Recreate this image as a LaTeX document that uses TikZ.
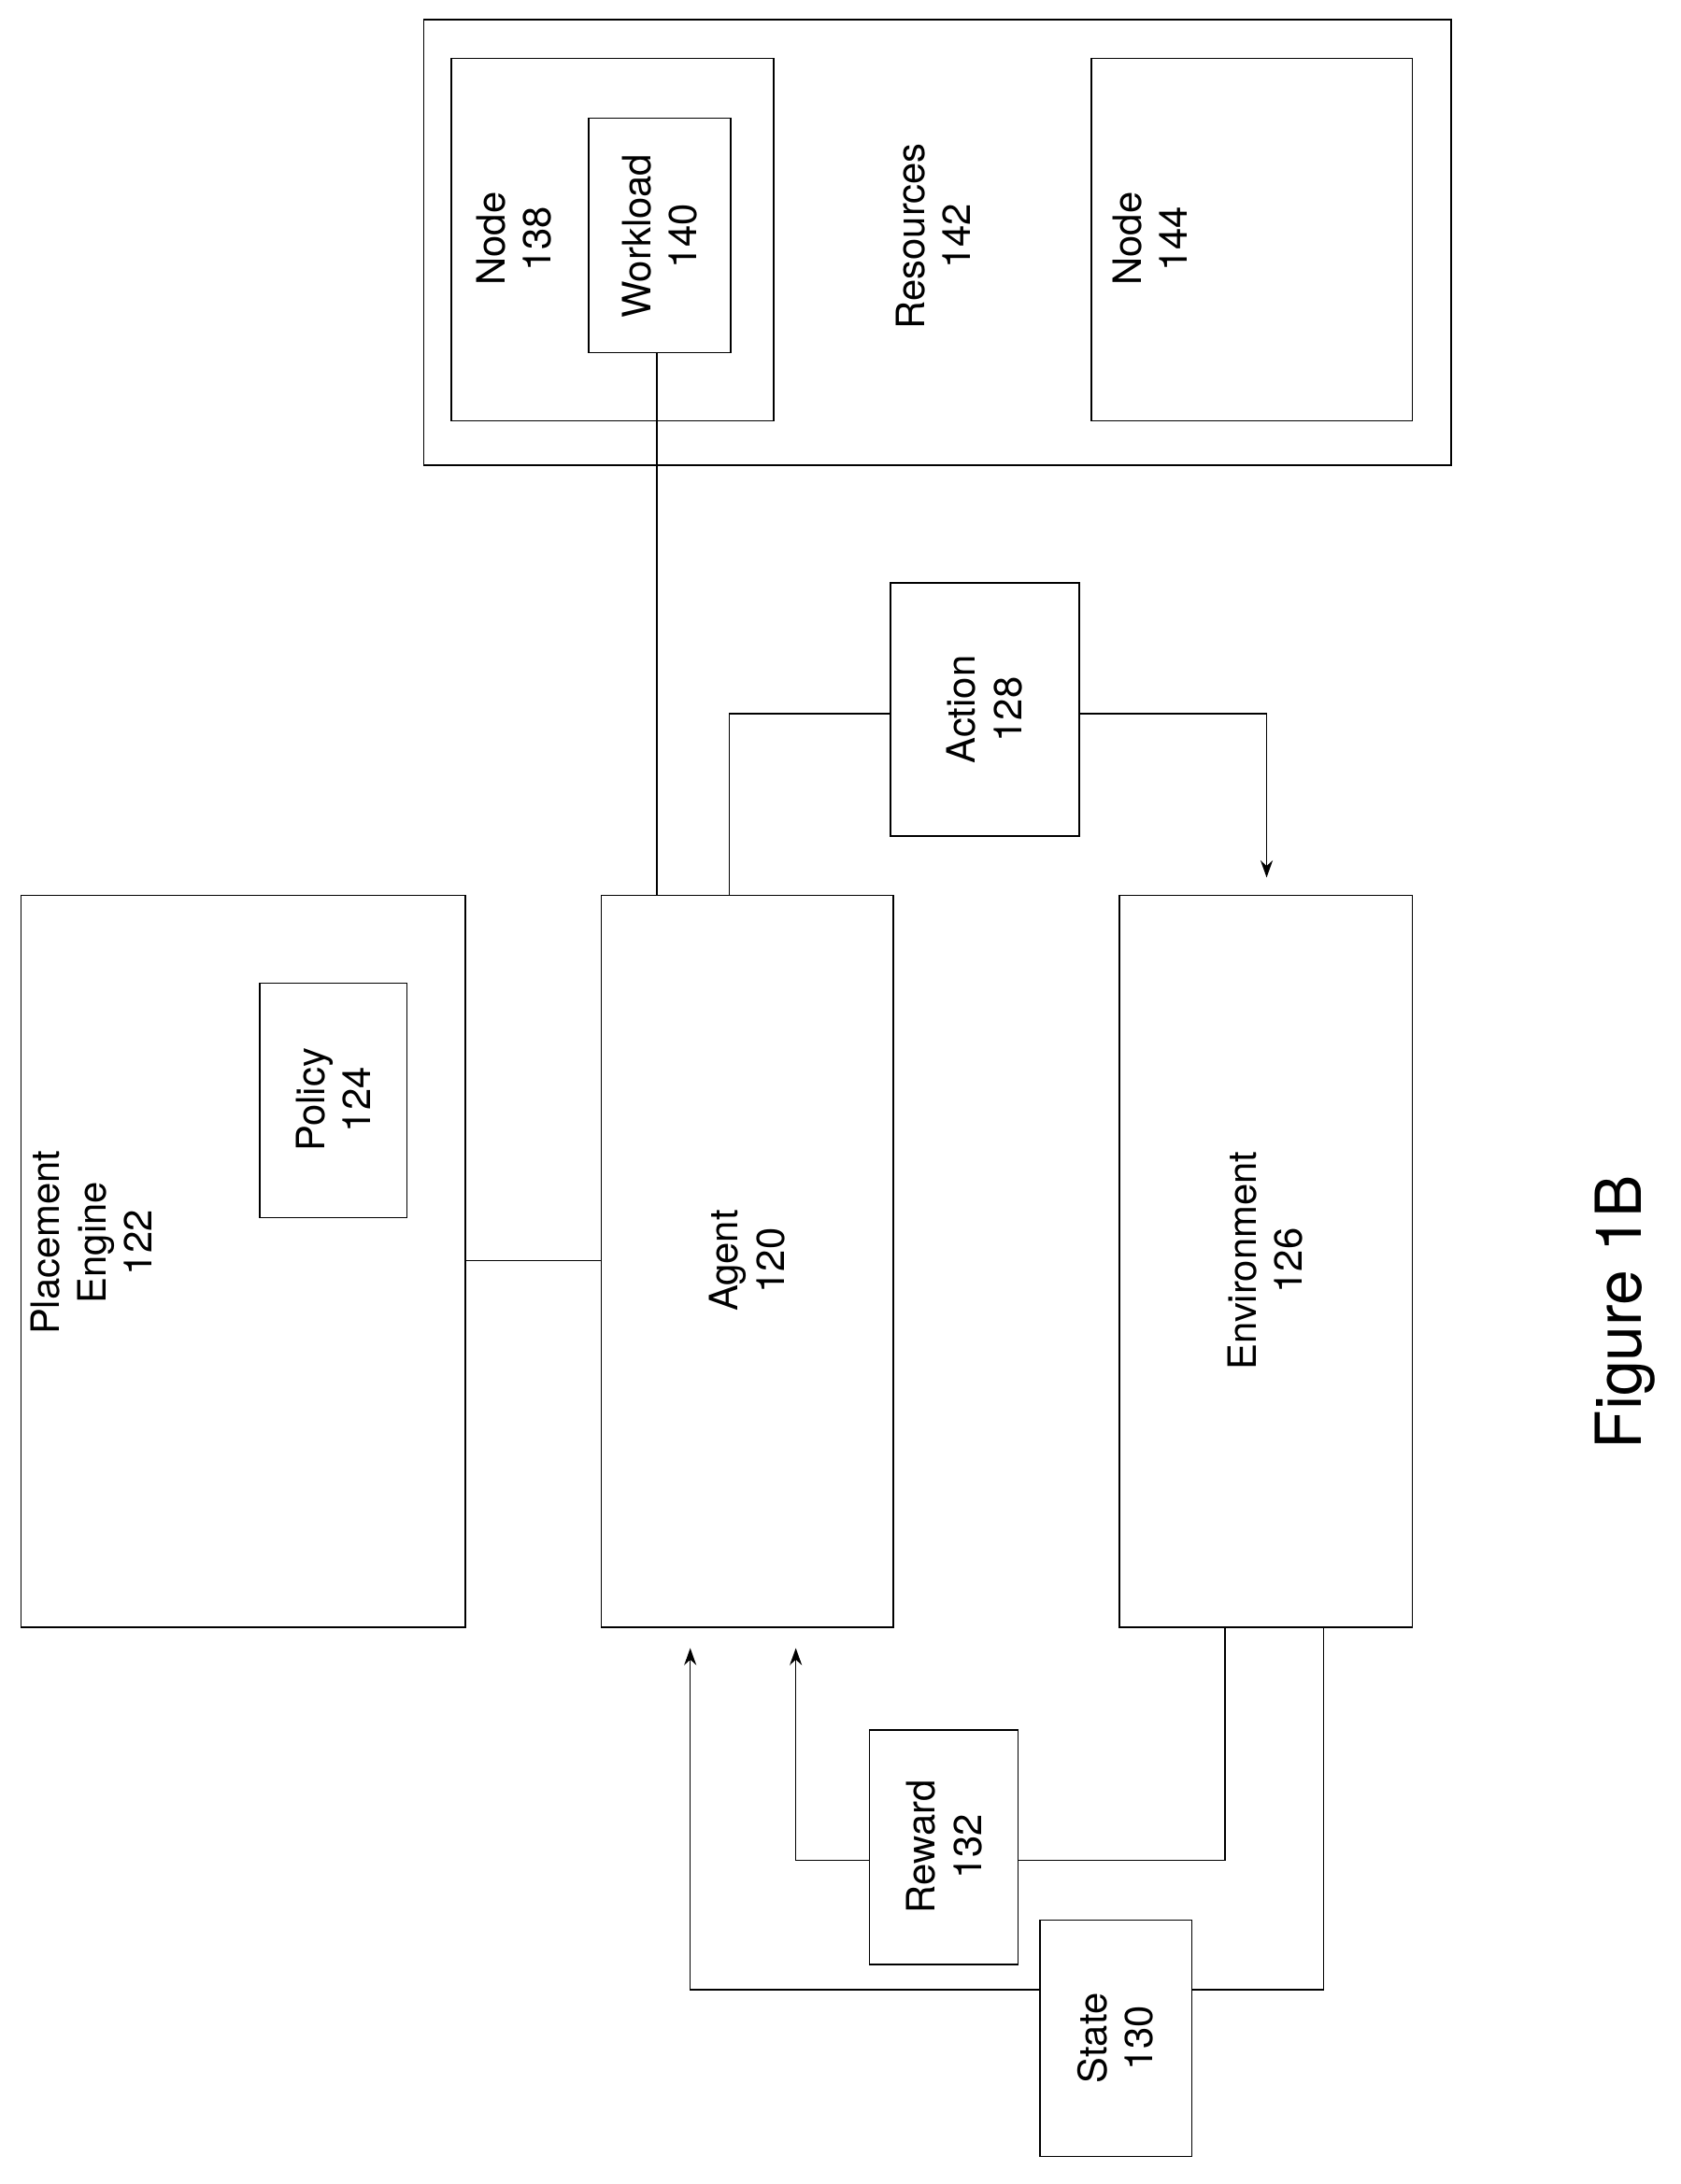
\documentclass[tikz,border=0pt]{standalone}
\usepackage{fontspec}
\setmainfont{TeX Gyre Heros}
\usetikzlibrary{arrows.meta}

\begin{document}
\begin{tikzpicture}[x=0.02cm,y=-0.02cm,semithick,>={Stealth[length=7pt,width=5pt]},
        lbl/.style={rotate=90,align=center,font=\fontsize{16}{19}\selectfont}]
        \useasboundingbox (0,0) rectangle (1210,1573);
        % boxes
        \draw (305,14) rectangle (1045,335);
        \draw (325,42) rectangle (557,303);
        \draw (424,85) rectangle (526,254);
        \draw (786,42) rectangle (1017,303);
        \draw (15,645) rectangle (335,1172);
        \draw (187,708) rectangle (293,877);
        \draw (433,645) rectangle (643,1172);
        \draw (806,645) rectangle (1017,1172);
        \draw (641,420) rectangle (777,602);
        \draw (626,1246) rectangle (733,1415);
        \draw (749,1383) rectangle (858,1553);
        % labels
        \node[lbl] (node138) at (370,172) {Node\\138};
        \node[lbl] (workload) at (475,170) {Workload\\140};
        \node[lbl] (res) at (672,170) {Resources\\142};
        \node[lbl] (node144) at (828,172) {Node\\144};
        \node[lbl] (place) at (66,895) {Placement\\Engine\\122};
        \node[lbl] (policy) at (240,792) {Policy\\124};
        \node[lbl] (agent) at (538,908) {Agent\\120};
        \node[lbl] (env) at (911,908) {Environment\\126};
        \node[lbl] (action) at (709,511) {Action\\128};
        \node[lbl] (reward) at (680,1330) {Reward\\132};
        \node[lbl] (state) at (803,1468) {State\\130};
        \node[rotate=90,font=\fontsize{26}{30}\selectfont] (fig) at (1170,945) {Figure 1B};
        % connectors
        \coordinate (wlb) at (473,254);
        \coordinate (agt) at (473,645);
        \draw (wlb) -- (agt);
        \draw (335,908) -- (433,908);
        \draw (525,645) |- (641,514);
        \draw[->] (777,514) -| (912,632);
        \draw (882,1172) |- (733,1340);
        \draw[->] (626,1340) -| (573,1187);
        \draw (953,1172) |- (858,1433);
        \draw[->] (749,1433) -| (497,1187);
\end{tikzpicture}
\end{document}
